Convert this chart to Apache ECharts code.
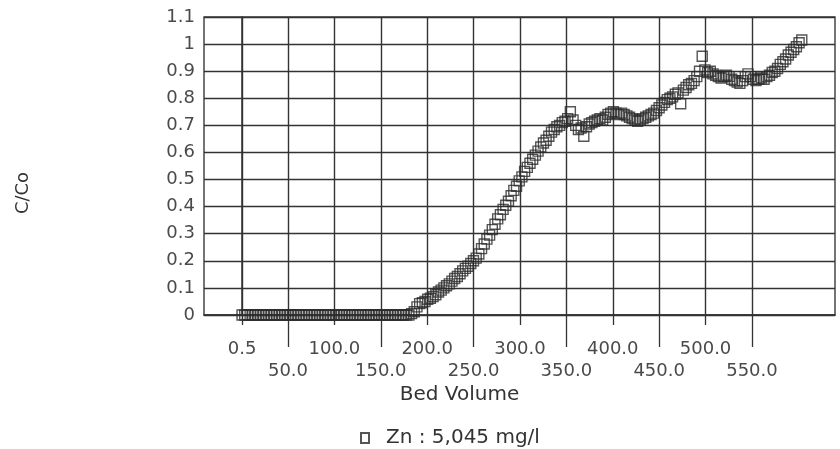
<!DOCTYPE html>
<html>
<head>
<meta charset="utf-8">
<script src="https://cdn.jsdelivr.net/npm/echarts@6/dist/echarts.min.js"></script>
<style>
html,body{margin:0;padding:0;background:#fff;}
#chart{width:840px;height:449px;}
</style>
</head>
<body>
<div id="chart"></div>
<script>
// Bed volume (x) and C/Co (y)
var bedVolume = [
  0.5, 3.4, 6.3, 9.2, 12.1, 15.0, 17.9, 20.8, 23.7, 26.6, 29.5, 32.4, 35.3, 38.2, 41.1, 44.0,
  46.9, 49.8, 52.7, 55.6, 58.5, 61.4, 64.3, 67.2, 70.1, 73.0, 75.9, 78.8, 81.7, 84.6, 87.5, 90.4,
  93.3, 96.2, 99.1, 102.0, 104.9, 107.8, 110.7, 113.6, 116.5, 119.4, 122.3, 125.2, 128.1, 131.0,
  133.9, 136.8, 139.7, 142.6, 145.5, 148.4, 151.3, 154.2, 157.1, 160.0, 162.9, 165.8, 168.7,
  171.6, 174.5, 177.4, 180.3,
  183.2, 186.1, 189.0, 191.9, 194.8, 197.7, 200.6, 203.5, 206.4, 209.3, 212.2, 215.1, 218.0,
  220.9, 223.8, 226.7, 229.6, 232.5, 235.4, 238.3, 241.2, 244.1, 247.0, 249.9, 252.8, 255.7,
  258.6, 261.5, 264.4, 267.3, 270.2, 273.1, 276.0, 278.9, 281.8, 284.7, 287.6, 290.5, 293.4,
  296.3, 299.2, 302.1, 305.0, 307.9, 310.8, 313.7, 316.6, 319.5, 322.4, 325.3, 328.2, 331.1,
  334.0, 336.9, 339.8, 342.7, 345.6, 348.5, 351.4, 354.3, 357.2, 360.1, 363.0, 365.9, 368.8,
  371.7, 374.6, 377.5, 380.4, 383.3, 386.2, 389.1, 392.0, 394.9, 397.8, 400.7, 403.6, 406.5,
  409.4, 412.3, 415.2, 418.1, 421.0, 423.9, 426.8, 429.7, 432.6, 435.5, 438.4, 441.3, 444.2,
  447.1, 450.0, 452.9, 455.8, 458.7, 461.6, 464.5, 467.4, 470.3, 473.2, 476.1, 479.0, 481.9,
  484.8, 487.7, 490.6, 493.5, 496.4, 499.3, 502.2, 505.1, 508.0, 510.9, 513.8, 516.7, 519.6,
  522.5, 525.4, 528.3, 531.2, 534.1, 537.0, 539.9, 542.8, 545.7, 548.6, 551.5, 554.4, 557.3,
  560.2, 563.1, 566.0, 568.9, 571.8, 574.7, 577.6, 580.5, 583.4, 586.3, 589.2, 592.1, 595.0,
  597.9, 600.8, 603.7
];
var cOverCo = [
  0, 0, 0, 0, 0, 0, 0, 0, 0, 0, 0, 0, 0, 0, 0, 0,
  0, 0, 0, 0, 0, 0, 0, 0, 0, 0, 0, 0, 0, 0, 0, 0,
  0, 0, 0, 0, 0, 0, 0, 0, 0, 0, 0, 0, 0, 0,
  0, 0, 0, 0, 0, 0, 0, 0, 0, 0, 0, 0, 0,
  0, 0, 0, 0,
  0.005, 0.012, 0.03, 0.042, 0.045, 0.05, 0.058, 0.062, 0.068, 0.075, 0.085, 0.092, 0.10,
  0.108, 0.115, 0.125, 0.135, 0.142, 0.152, 0.163, 0.172, 0.18, 0.19, 0.20, 0.21, 0.225,
  0.245, 0.262, 0.28, 0.295, 0.315, 0.335, 0.355, 0.37, 0.39, 0.405, 0.42, 0.44, 0.46,
  0.475, 0.495, 0.51, 0.53, 0.545, 0.56, 0.575, 0.59, 0.605, 0.62, 0.635, 0.645, 0.66,
  0.675, 0.685, 0.695, 0.70, 0.71, 0.715, 0.725, 0.75, 0.72, 0.70, 0.685, 0.69, 0.66,
  0.695, 0.705, 0.71, 0.715, 0.72, 0.725, 0.72, 0.73, 0.74, 0.745, 0.75, 0.745, 0.74,
  0.745, 0.74, 0.735, 0.73, 0.725, 0.72, 0.715, 0.72, 0.725, 0.73, 0.735, 0.74, 0.745,
  0.755, 0.765, 0.775, 0.785, 0.795, 0.80, 0.805, 0.815, 0.82, 0.78, 0.83, 0.84, 0.85,
  0.855, 0.865, 0.88, 0.90, 0.955, 0.905, 0.895, 0.90, 0.89, 0.885, 0.88, 0.875, 0.88,
  0.885, 0.88, 0.87, 0.865, 0.86, 0.855, 0.865, 0.88, 0.89, 0.88, 0.87, 0.865, 0.87,
  0.875, 0.87, 0.88, 0.885, 0.895, 0.90, 0.91, 0.925, 0.935, 0.945, 0.96, 0.97, 0.98,
  0.99, 1.005, 1.015
];

// Tick values / labels (Excel-style staggered rows)
var upperTickValues = [0.5, 100, 200, 300, 400, 500];
var upperTickLabels = ['0.5', '100.0', '200.0', '300.0', '400.0', '500.0'];
var lowerTickValues = [50, 150, 250, 350, 450, 550];
var lowerTickLabels = ['50.0', '150.0', '250.0', '350.0', '450.0', '550.0'];
var yTickLabels = ['0', '0.1', '0.2', '0.3', '0.4', '0.5', '0.6', '0.7', '0.8', '0.9', '1', '1.1'];

var xTitle = 'Bed Volume';
var yTitle = 'C/Co';
var seriesName = 'Zn : 5,045 mg/l';

var FONT = 'DejaVu Sans';
var TXT = '#4a4a4a';
var GRID = '#333333';

var points = bedVolume.map(function (x, i) { return [x, cOverCo[i]]; });

function lookup(values, labels) {
  return function (v) {
    for (var i = 0; i < values.length; i++) {
      if (Math.abs(values[i] - v) < 1e-6) return labels[i];
    }
    return '';
  };
}

var chart = echarts.init(document.getElementById('chart'), null, {renderer: 'canvas'});
chart.setOption({
  animation: false,
  backgroundColor: '#ffffff',
  grid: {left: 204, right: 5, top: 17, bottom: 134, show: true, borderColor: '#3a3a3a', borderWidth: 1.4, containLabel: false},
  xAxis: [{
    type: 'value', min: -40.5, max: 639.5, position: 'bottom',
    axisLine: {show: true, onZero: false, lineStyle: {color: GRID, width: 1.5}},
    axisTick: {show: true, customValues: upperTickValues, length: 10, lineStyle: {color: GRID, width: 1.3}},
    axisLabel: {customValues: upperTickValues, formatter: lookup(upperTickValues, upperTickLabels),
      margin: 25, fontFamily: FONT, fontSize: 18, color: TXT},
    splitLine: {show: true, lineStyle: {color: GRID, width: 1.4}}
  }, {
    type: 'value', min: -40.5, max: 639.5, position: 'bottom',
    axisLine: {show: false, onZero: false},
    axisTick: {show: true, customValues: lowerTickValues, length: 32, lineStyle: {color: GRID, width: 1.3}},
    axisLabel: {customValues: lowerTickValues, formatter: lookup(lowerTickValues, lowerTickLabels),
      margin: 47, fontFamily: FONT, fontSize: 18, color: TXT},
    splitLine: {show: true, lineStyle: {color: GRID, width: 1.4}},
    name: xTitle, nameLocation: 'middle', nameGap: 69,
    nameTextStyle: {fontFamily: FONT, fontSize: 20, color: '#333', padding: [0, 120, 0, 0]}
  }],
  yAxis: {
    type: 'value', min: 0, max: 1.1, interval: 0.1,
    axisLine: {show: true, lineStyle: {color: GRID, width: 1.5}},
    axisTick: {show: true, length: 3, lineStyle: {color: GRID}},
    axisLabel: {margin: 9, fontFamily: FONT, fontSize: 18, color: TXT,
      formatter: function (v) { return yTickLabels[Math.round(v * 10)]; }},
    splitLine: {show: true, lineStyle: {color: GRID, width: 1.4}},
    name: yTitle, nameLocation: 'middle', nameRotate: 90, nameGap: 172,
    nameTextStyle: {fontFamily: FONT, fontSize: 18, color: '#333', padding: [0, 54, 0, 0]}
  },
  legend: {
    left: 355, top: 423, itemWidth: 8, itemHeight: 10, itemGap: 10,
    textStyle: {fontFamily: FONT, fontSize: 20, color: '#333', padding: [0, 0, 0, 12]},
    data: [{name: seriesName, icon: 'rect'}]
  },
  series: [{
    name: seriesName, type: 'scatter', xAxisIndex: 0, data: points,
    symbol: 'rect', symbolSize: 10,
    itemStyle: {color: 'rgba(0,0,0,0)', borderColor: '#2a2a2a', borderWidth: 1.4},
    emphasis: {disabled: true}
  }]
});
</script>
</body>
</html>
